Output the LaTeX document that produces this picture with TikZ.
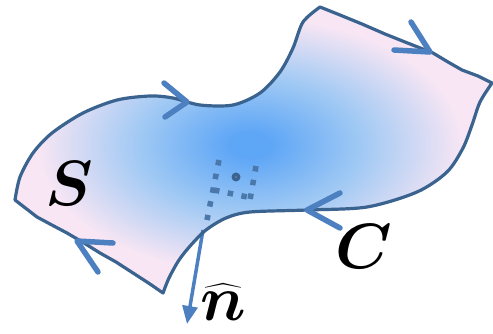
\RequirePackage{fix-cm}
\documentclass[tikz,border=0pt]{standalone}
\usepackage{amsmath,bm}
\usetikzlibrary{arrows.meta}
\definecolor{edgec}{HTML}{3A6390}
\definecolor{arrc}{HTML}{4C80C0}
\definecolor{dotc}{HTML}{4A78AA}
\definecolor{cblue}{HTML}{5EA6F6}
\definecolor{cmid}{HTML}{A0C9F4}
\definecolor{cpink}{HTML}{F8E6F4}
\pgfdeclareradialshading{surfshade}{\pgfpoint{0bp}{0bp}}{color(0bp)=(cblue); color(2bp)=(cblue); color(11bp)=(cmid); color(21bp)=(cpink); color(50bp)=(cpink)}
\tikzset{
  outline/.style={draw=edgec, line width=3.2pt, line join=round},
  chevron/.style={draw=arrc, line width=5.5pt, line cap=round, line join=round},
  normalarrow/.style={draw=arrc, fill=arrc, line width=3.5pt, -{Triangle[length=18pt,width=15pt]}},
  dotline/.style={draw=dotc, line width=5.5pt, dash pattern=on 5.5pt off 8.5pt},
  lab/.style={font=\fontsize{64}{70}\selectfont, inner sep=0pt},
}
\def\surface{(320,7) -- (340,15) -- (362,24) -- (385,34) -- (405,42) -- (433,53) -- (448,62) -- (462,70) -- (478,76) -- (492,83)
 -- plot[smooth] coordinates {(492,83) (480,102) (472,125) (463,148) (447,172) (417,192) (367,207) (307,210) (250,212) (226,218) (206,230) (191,245) (179,260) (169,278) (163,293)}
 -- (150,284) -- (133,273) -- (116,262) -- (100,253) -- (84,243) -- (67,233) -- (50,224) -- (37,217) -- (15,200)
 -- plot[smooth] coordinates {(15,200) (20,177) (33,153) (52,133) (83,113) (117,100) (150,96) (173,98) (200,105) (233,105) (260,93) (280,72) (293,48) (303,22) (320,7)} -- cycle}
\begin{document}
\begin{tikzpicture}[x=1pt,y=-1pt]
\useasboundingbox (0,0) rectangle (493,333);
\begin{scope}
  \clip \surface;
  \fill[cpink] (0,0) rectangle (493,333);
  \begin{scope}[shift={(250,145)}, rotate=-8, yscale=0.55]
    \shade[shading=surfshade] (0,0) circle (245);
  \end{scope}
\end{scope}
% dotted tangent frame
\draw[dotline] (219,160) -- (207,220);
\draw[dotline] (256,166) -- (250,200);
\draw[dotline] (214,190) -- (252,198);
\fill[edgec] (236,177) circle (4.5);
\fill[edgec!80!white] (236,177) circle (1.2);
% normal
\coordinate (nbase) at (203,230);
\coordinate (ntip) at (187,324);
\draw[normalarrow] (nbase) -- (ntip);
% boundary
\path[outline] \surface;
% orientation arrows
\coordinate (a1) at (187,102);
\draw[chevron] (164,83) -- (a1) -- (165,117);
\coordinate (a2) at (430,52);
\draw[chevron] (411,22) -- (a2) -- (394,50);
\coordinate (a3) at (307,210);
\draw[chevron] (340,193) -- (a3) -- (340,228);
\coordinate (a4) at (77,241);
\draw[chevron] (113,243) -- (a4) -- (98,272);
% labels
\node[lab] (S) at (69,184) {$\bm{S}$};
\node[lab] (C) at (364,247) {$\bm{C}$};
\node[lab] (n) at (223,302) {$\widehat{\bm{n}}$};
\end{tikzpicture}
\end{document}
